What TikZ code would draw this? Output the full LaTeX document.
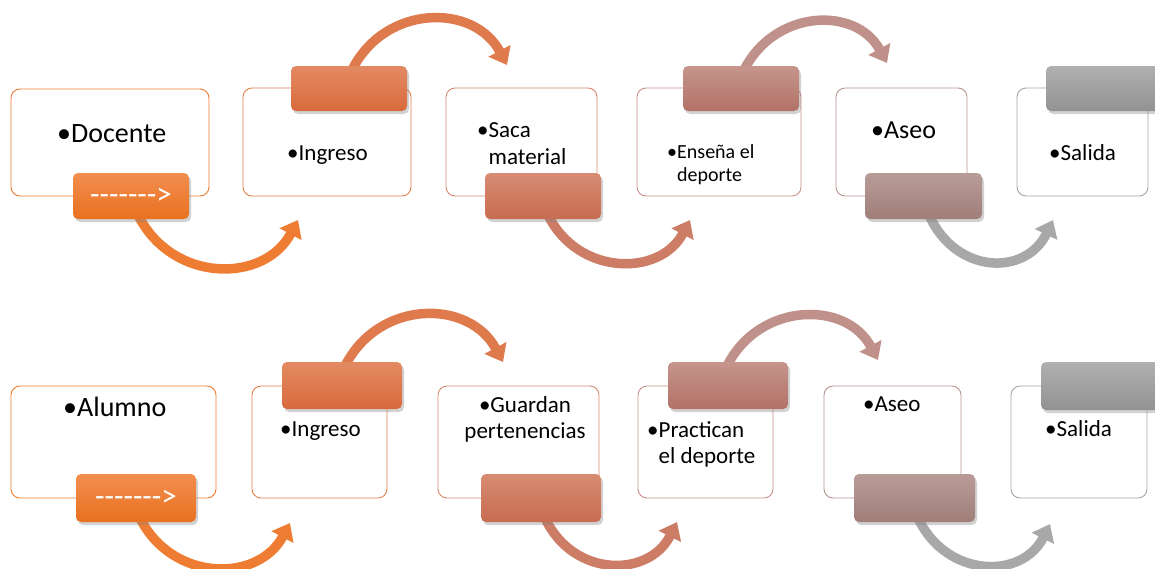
\documentclass[tikz,border=0pt]{standalone}
\usepackage{fontspec}
\setmainfont{Carlito}
\usetikzlibrary{shadows,arrows.meta}
\newcommand\hy{\mbox{-}}
\newcommand\dashlabel{\hy\hy\hy\hy\hy\hy\hy>}
\definecolor{b1}{HTML}{ED7D31}\definecolor{b2}{HTML}{E5814B}\definecolor{b3}{HTML}{D98A70}
\definecolor{b4}{HTML}{C99087}\definecolor{b5}{HTML}{B79591}\definecolor{b6}{HTML}{A5A5A5}
\definecolor{l1t}{HTML}{F28E50}\definecolor{l1b}{HTML}{E8711F}
\definecolor{l2t}{HTML}{E38A63}\definecolor{l2b}{HTML}{D86A3C}
\definecolor{l3t}{HTML}{D78C74}\definecolor{l3b}{HTML}{C76C50}
\definecolor{l4t}{HTML}{C6958C}\definecolor{l4b}{HTML}{B27167}
\definecolor{l5t}{HTML}{B89C98}\definecolor{l5b}{HTML}{A07E7A}
\definecolor{l6t}{HTML}{B0B0B0}\definecolor{l6b}{HTML}{929292}
\definecolor{a1}{HTML}{EE7D33}\definecolor{a2}{HTML}{DE7A4C}\definecolor{a3}{HTML}{CD7C66}
\definecolor{a4}{HTML}{C0918A}\definecolor{a5}{HTML}{A8A8A8}
\tikzset{
  box/.style={draw=#1, fill=white, line width=0.9pt, rounded corners=9pt, inner sep=0pt},
  lab/.style 2 args={rounded corners=5pt, top color=#1, bottom color=#2, draw=none,
     inner sep=0pt, drop shadow={opacity=0.35, shadow xshift=2pt, shadow yshift=-3pt}},
  carrow/.style={draw=#1, line width=9.5pt, -{Triangle[width=24pt,length=16pt]}},
  txt/.style={anchor=base west, inner sep=0pt, text=black},
  ctxt/.style={anchor=base, inner sep=0pt, text=black},
  dtxt/.style={text=white, inner sep=0pt, font=\fontsize{31}{33}\selectfont}
}
\begin{document}
\begin{tikzpicture}[x=1pt,y=-1pt]
\useasboundingbox (0,0) rectangle (1155,568);
\fill[white] (0,0) rectangle (1155,568);
% ---------- top row boxes
\node[box=b1, minimum width=198pt, minimum height=107pt] (B1) at (110,142.5) {};
\node[box=b2, minimum width=168pt, minimum height=108pt] (B2) at (327,142) {};
\node[box=b3, minimum width=151pt, minimum height=108pt] (B3) at (521.5,142) {};
\node[box=b4, minimum width=164pt, minimum height=108pt] (B4) at (719,142) {};
\node[box=b5, minimum width=131pt, minimum height=108pt] (B5) at (901.5,142) {};
\node[box=b6, minimum width=131pt, minimum height=108pt] (B6) at (1082.5,142) {};
% ---------- bottom row boxes
\node[box=b1, minimum width=205pt, minimum height=112pt] (C1) at (113.5,442) {};
\node[box=b2, minimum width=135pt, minimum height=112pt] (C2) at (319.5,442) {};
\node[box=b3, minimum width=161pt, minimum height=112pt] (C3) at (518.5,442) {};
\node[box=b4, minimum width=135pt, minimum height=112pt] (C4) at (705.5,442) {};
\node[box=b5, minimum width=137pt, minimum height=112pt] (C5) at (892.5,442) {};
\node[box=b6, minimum width=136pt, minimum height=112pt] (C6) at (1079,442) {};
% ---------- texts top
\node[txt, font=\fontsize{28}{32}\selectfont] (T1) at (57,142) {•Docente};
\node[txt, font=\fontsize{23}{27}\selectfont] (T2) at (287,160) {•Ingreso};
\node[txt, font=\fontsize{23}{27}\selectfont] (T3) at (477,137)
  {\begin{tabular}[t]{@{}l@{}l@{}}•&Saca\\&material\end{tabular}};
\node[txt, font=\fontsize{20}{23}\selectfont] (T4) at (667,158)
  {\begin{tabular}[t]{@{}l@{}l@{}}•&Enseña el\\&deporte\end{tabular}};
\node[txt, font=\fontsize{26}{30}\selectfont] (T5) at (871,138) {•Aseo};
\node[txt, font=\fontsize{23}{27}\selectfont] (T6) at (1049,160) {•Salida};
% ---------- texts bottom
\node[txt, font=\fontsize{28}{32}\selectfont] (U1) at (63,416) {•Alumno};
\node[txt, font=\fontsize{23}{27}\selectfont] (U2) at (280,436) {•Ingreso};
\node[ctxt, font=\fontsize{23}{26}\selectfont] (U3) at (525,412)
  {\begin{tabular}[t]{@{}c@{}}•Guardan\\pertenencias\end{tabular}};
\node[txt, font=\fontsize{23}{26}\selectfont] (U4) at (647,437)
  {\begin{tabular}[t]{@{}l@{}l@{}}•&Practican\\&el deporte\end{tabular}};
\node[txt, font=\fontsize{23}{27}\selectfont] (U5) at (863,411) {•Aseo};
\node[txt, font=\fontsize{23}{27}\selectfont] (U6) at (1045,436) {•Salida};
% ---------- label positions (coordinates for arrows)
\coordinate (L1c) at (131,196);   \coordinate (L2c) at (349,88.5);
\coordinate (L3c) at (543,196);   \coordinate (L4c) at (741,88.5);
\coordinate (L5c) at (923.5,196); \coordinate (L6c) at (1104,88.5);
\coordinate (M1c) at (136,498);   \coordinate (M2c) at (342,385.5);
\coordinate (M3c) at (541,498);   \coordinate (M4c) at (728,385.5);
\coordinate (M5c) at (914.5,498); \coordinate (M6c) at (1101,386);
% arrow starts and tips
\coordinate (s1) at (138,215);  \coordinate (e1) at (298,220);
\coordinate (s2) at (352,70);   \coordinate (e2) at (507,65);
\coordinate (s3) at (548,215);  \coordinate (e3) at (690,220);
\coordinate (s4) at (744,70);   \coordinate (e4) at (887,63);
\coordinate (s5) at (929,215);  \coordinate (e5) at (1053,220);
\coordinate (r1) at (140,518);  \coordinate (f1) at (290,523);
\coordinate (r2) at (345,366);  \coordinate (f2) at (503,362);
\coordinate (r3) at (545,518);  \coordinate (f3) at (677,522);
\coordinate (r4) at (727,366);  \coordinate (f4) at (878,360);
\coordinate (r5) at (918,518);  \coordinate (f5) at (1050,524);
% ---------- circular arrows
\draw[carrow=a1] (s1) .. controls +(34,68) and +(-34,64) .. (e1);
\draw[carrow=a2] (s2) .. controls +(33,-66) and +(-33,-62) .. (e2);
\draw[carrow=a3] (s3) .. controls +(30,61) and +(-30,57) .. (e3);
\draw[carrow=a4] (s4) .. controls +(31,-61) and +(-31,-57) .. (e4);
\draw[carrow=a5] (s5) .. controls +(27,60) and +(-27,56) .. (e5);
\draw[carrow=a1] (r1) .. controls +(32,64) and +(-32,60) .. (f1);
\draw[carrow=a2] (r2) .. controls +(34,-67) and +(-34,-63) .. (f2);
\draw[carrow=a3] (r3) .. controls +(28,60) and +(-28,56) .. (f3);
\draw[carrow=a4] (r4) .. controls +(32,-64) and +(-32,-60) .. (f4);
\draw[carrow=a5] (r5) .. controls +(28,60) and +(-28,56) .. (f5);
% ---------- labels top row
\node[lab={l1t}{l1b}, minimum width=116pt, minimum height=46pt] (L1) at (L1c) {};
\node[dtxt] at (L1) {\dashlabel};
\node[lab={l2t}{l2b}, minimum width=116pt, minimum height=45pt] (L2) at (L2c) {};
\node[lab={l3t}{l3b}, minimum width=116pt, minimum height=46pt] (L3) at (L3c) {};
\node[lab={l4t}{l4b}, minimum width=116pt, minimum height=45pt] (L4) at (L4c) {};
\node[lab={l5t}{l5b}, minimum width=117pt, minimum height=46pt] (L5) at (L5c) {};
\node[lab={l6t}{l6b}, minimum width=116pt, minimum height=45pt] (L6) at (L6c) {};
% ---------- labels bottom row
\node[lab={l1t}{l1b}, minimum width=120pt, minimum height=48pt] (M1) at (M1c) {};
\node[dtxt] at (M1) {\dashlabel};
\node[lab={l2t}{l2b}, minimum width=120pt, minimum height=47pt] (M2) at (M2c) {};
\node[lab={l3t}{l3b}, minimum width=120pt, minimum height=48pt] (M3) at (M3c) {};
\node[lab={l4t}{l4b}, minimum width=120pt, minimum height=47pt] (M4) at (M4c) {};
\node[lab={l5t}{l5b}, minimum width=121pt, minimum height=48pt] (M5) at (M5c) {};
\node[lab={l6t}{l6b}, minimum width=120pt, minimum height=48pt] (M6) at (M6c) {};
\end{tikzpicture}
\end{document}
